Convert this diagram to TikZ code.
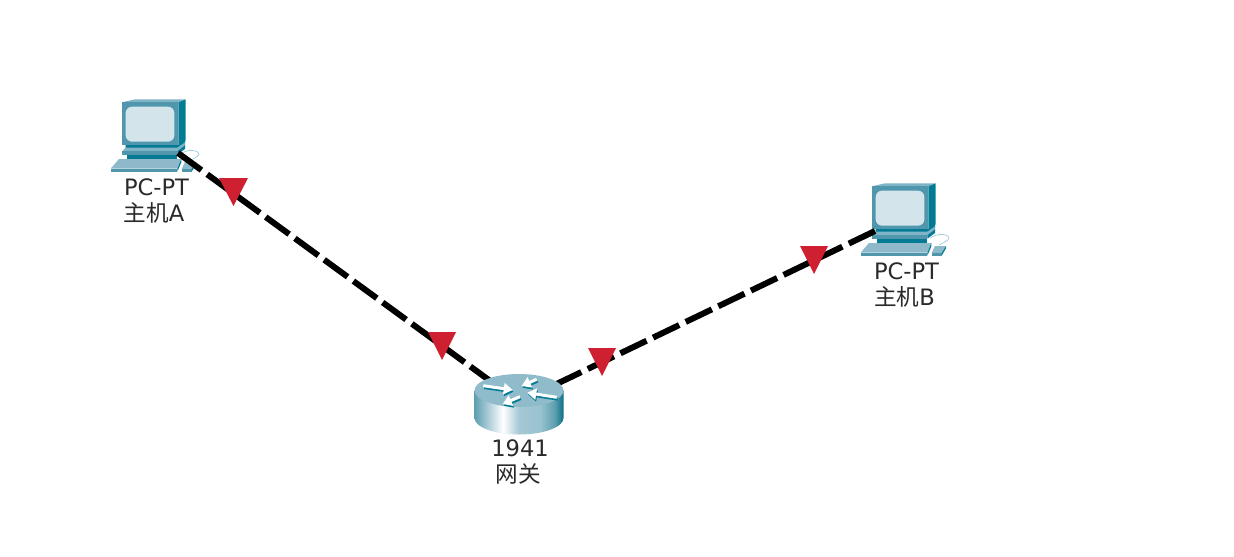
\documentclass[tikz,border=0pt]{standalone}
\usepackage{fontspec}
\setmainfont{DejaVu Sans}
\newfontfamily\cjk{Noto Sans CJK SC}
\usetikzlibrary{arrows.meta}
\definecolor{pctop}{HTML}{7FB3C6}
\definecolor{pcfront}{HTML}{5097AE}
\definecolor{pcside}{HTML}{047B95}
\definecolor{pcscreen}{HTML}{D3E4EB}
\definecolor{pckey}{HTML}{8DB9CA}
\definecolor{pccord}{HTML}{9CCBDB}
\definecolor{linkred}{HTML}{CE2030}
\definecolor{labelgrey}{HTML}{2A2A2A}
\definecolor{rtop}{HTML}{8FBBCB}
\definecolor{rleft}{HTML}{5E9FB0}
\definecolor{rmid}{HTML}{A4C8D4}
\definecolor{rright}{HTML}{0B6F87}
\pgfdeclarehorizontalshading{routerbody}{100bp}{
  color(0bp)=(rleft);
  color(25bp)=(rleft);
  color(32bp)=(rmid);
  color(41bp)=(white);
  color(50bp)=(rmid);
  color(62bp)=(rmid!85!rleft);
  color(70bp)=(rleft);
  color(75bp)=(rright);
  color(100bp)=(rright)}
\tikzset{
  x=0.5pt,y=-0.5pt,
  cablelink/.style={draw=black,line width=3pt,dash pattern=on 14.5pt off 3.6pt},
  marker/.style={fill=linkred,draw=none},
  devlabel/.style={text=labelgrey,font=\fontsize{11.3pt}{14pt}\selectfont,align=center,inner sep=0pt},
  port/.style={inner sep=0pt,minimum size=0pt,outer sep=0pt},
  pcicon/.pic={
    \begin{scope}[x=0.16667pt,y=-0.16667pt]
      \fill[pctop] (95,52) -- (135,43) -- (287,43) -- (265,52) -- cycle;
      \fill[pcfront] (95,52) rectangle (265,181);
      \fill[pcside] (265,52) -- (287,43) -- (287,166) -- (265,184) -- cycle;
      \fill[pcscreen,rounded corners=3.2pt] (107,65) rectangle (253,170);
      % stand
      \fill[pcside] (107,180) -- (265,180) -- (285,166) -- (285,178) -- (262,190) -- (107,190) -- cycle;
      \fill[pctop] (107,188) -- (262,188) -- (285,172) -- (285,182) -- (262,200) -- (95,200) -- cycle;
      \fill[pcfront] (95,199) -- (262,199) -- (262,209) -- (95,209) -- cycle;
      \fill[pcside] (262,199) -- (285,181) -- (285,192) -- (262,209) -- cycle;
      \fill[pcside] (110,209) rectangle (260,222);
      % keyboard
      \fill[pckey] (87,222) -- (274,222) -- (262,251) -- (62,251) -- cycle;
      \fill[pcfront] (62,251) -- (262,251) -- (262,260) -- (62,260) -- cycle;
      \fill[pcside] (262,251) -- (274,222) -- (274,232) -- (262,260) -- cycle;
      % mouse
      \draw[pccord,line width=0.35pt] (270,208) .. controls (290,190) and (330,195) .. (326,209) .. controls (322,218) and (305,222) .. (298,228);
      \fill[pckey] (285,231) -- (318,231) -- (305,252) -- (275,252) -- cycle;
      \fill[pcfront] (275,252) -- (305,252) -- (305,260) -- (275,260) -- cycle;
      \fill[pcside] (305,252) -- (318,231) -- (318,238) -- (305,260) -- cycle;
    \end{scope}
  }
}
\begin{document}
\begin{tikzpicture}
\useasboundingbox[fill=white] (0,0) rectangle (1234,556);
% devices
\pic at (90,85) {pcicon};
\pic at (840,169) {pcicon};
% anchors and connectors
\node[port] (hostA) at (178,153) {};
\node[port] (hostB) at (875,231) {};
\node[port] (gateway) at (519,402) {};
\path[cablelink] (hostA) -- (gateway);
\path[cablelink] (hostB) -- (gateway);
% router
\shade[shading=routerbody] (474.5,390.5) -- (474.5,418) arc[start angle=180,end angle=0,x radius=44.5,y radius=16.5] -- (563.5,390.5) -- cycle;
\fill[rtop] (519,390.5) ellipse[x radius=44.5,y radius=16.5];
\begin{scope}[line width=1.5pt]
  \foreach \ax/\ay/\bx/\by in {483.3/385.7/512.7/390, 536.7/379.3/521.7/386, 556.7/397.3/527.3/392.7, 520/396.7/502.7/404}{
    \draw[pcside,-{Triangle[length=4.5pt,width=5.5pt]}] (\ax+0.8,\ay+1.8) -- (\bx+0.8,\by+1.8);
    \draw[white,-{Triangle[length=4.5pt,width=5.5pt]}] (\ax,\ay) -- (\bx,\by);
  }
\end{scope}
% direction markers
\fill[marker] (219,178) -- (248,178) -- (233.5,206) -- cycle;
\fill[marker] (428,332) -- (456,332) -- (442,360) -- cycle;
\fill[marker] (588,348) -- (616,348) -- (602,376) -- cycle;
\fill[marker] (800,246) -- (828,246) -- (814,274) -- cycle;
% labels
\node[devlabel] (labelA1) at (156.5,187) {PC-PT};
\node[devlabel] (labelA2) at (154,212.5) {{\cjk 主机}A};
\node[devlabel] (labelB1) at (906.5,271) {PC-PT};
\node[devlabel] (labelB2) at (904.5,296.5) {{\cjk 主机}B};
\node[devlabel] (labelR1) at (520,448) {1941};
\node[devlabel] (labelR2) at (518,474) {{\cjk 网关}};
\end{tikzpicture}
\end{document}
